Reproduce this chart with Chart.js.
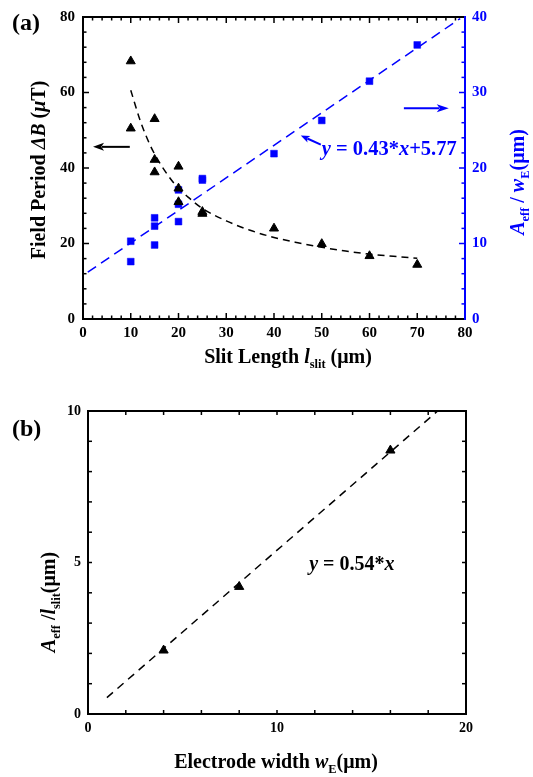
<!DOCTYPE html>
<html><head><meta charset="utf-8">
<script src="https://cdn.jsdelivr.net/npm/chart.js@4"></script>
<style>
html,body{margin:0;padding:0;background:#fff;width:533px;height:777px;overflow:hidden;}
#c1{position:absolute;left:0;top:0;}
#c2{position:absolute;left:0;top:380px;}
</style></head><body>
<canvas id="c1" width="533" height="375"></canvas>
<canvas id="c2" width="533" height="397"></canvas>
<script>
const FONT = '"Liberation Serif","Times New Roman",serif';
const BLUE = '#0000ff';

// ---- panel (a) data ----
const slitTri   = [10, 10, 15, 15, 15, 20, 20, 20, 25, 25, 40, 50, 60, 70];
const periodTri = [68.3, 50.5, 53.0, 42.2, 38.9, 40.4, 34.6, 31.0, 28.4, 27.9, 24.0, 19.9, 16.7, 14.4];
const slitSq    = [10, 10, 15, 15, 15, 20, 20, 20, 25, 25, 40, 50, 60, 70];
const ratioSq   = [10.3, 7.6, 13.4, 12.3, 9.8, 17.1, 15.2, 12.9, 18.6, 18.4, 21.9, 26.3, 31.5, 36.3];
const periodFitX = [10, 12, 14, 16, 18, 20, 22, 25, 30, 35, 40, 45, 50, 55, 60, 65, 70];
const periodFitY = [60.6, 52.5, 46.2, 41.5, 37.7, 34.6, 32.3, 29.3, 26.0, 23.5, 21.6, 20.2, 19.0, 18.0, 17.2, 16.6, 16.1];
const ratioFitX = [1, 79];
const ratioFitY = [6.2, 39.8];
const xTickLabelsA = [0, 10, 20, 30, 40, 50, 60, 70, 80];
const yLTickLabelsA = [0, 20, 40, 60, 80];
const yRTickLabelsA = [0, 10, 20, 30, 40];

// ---- panel (b) data ----
const widthTri = [4, 8, 16];
const areaTri  = [2.1, 4.2, 8.7];
const areaFitX = [1, 18.5];
const areaFitY = [0.54, 10];
const xTickLabelsB = [0, 10, 20];
const yTickLabelsB = [0, 5, 10];

function pts(xs, ys){ return xs.map((x,i)=>({x, y: ys[i]})); }
function range(a,b,s){ const r=[]; for(let v=a; v<=b+1e-9; v+=s) r.push(+v.toFixed(6)); return r; }

function rich(ctx, parts, size, x, y, rot, color, align){
  ctx.save();
  ctx.translate(x, y);
  if (rot) ctx.rotate(rot);
  ctx.textBaseline = 'alphabetic';
  let total = 0;
  const segs = parts.map(p => {
    const fs = p.sub ? size * 0.62 : size;
    const f = (p.it ? 'italic ' : '') + 'bold ' + fs + 'px ' + FONT;
    ctx.font = f;
    const w = ctx.measureText(p.t).width;
    total += w;
    return {p, f, w};
  });
  let cx = align === 'left' ? 0 : -total / 2;
  const base = size * 0.34;
  segs.forEach(s => {
    ctx.font = s.f;
    ctx.fillStyle = s.p.color || color;
    ctx.fillText(s.p.t, cx, base + (s.p.sub ? size * 0.28 : 0));
    cx += s.w;
  });
  ctx.restore();
}

function arrow(ctx, x1, y1, x2, y2, color, lw, hl, hw){
  const ang = Math.atan2(y2 - y1, x2 - x1);
  ctx.save();
  ctx.strokeStyle = color; ctx.fillStyle = color; ctx.lineWidth = lw;
  ctx.beginPath();
  ctx.moveTo(x1, y1);
  ctx.lineTo(x2 - Math.cos(ang) * hl * 0.8, y2 - Math.sin(ang) * hl * 0.8);
  ctx.stroke();
  ctx.translate(x2, y2); ctx.rotate(ang);
  ctx.beginPath();
  ctx.moveTo(0, 0); ctx.lineTo(-hl, -hw / 2); ctx.lineTo(-hl * 0.75, 0); ctx.lineTo(-hl, hw / 2);
  ctx.closePath(); ctx.fill();
  ctx.restore();
}

function seg(ctx, x1, y1, x2, y2){ ctx.beginPath(); ctx.moveTo(x1, y1); ctx.lineTo(x2, y2); ctx.stroke(); }

const tickFont = (s) => ({family: FONT, size: s, weight: 'bold'});

// ---------- chart (a) ----------
const decoA = {
  id: 'decoA',
  afterDraw(chart){
    const ctx = chart.ctx, a = chart.chartArea;
    const x = chart.scales.x, yL = chart.scales.yL, yR = chart.scales.yR;
    ctx.save();
    ctx.lineWidth = 1.5;
    ctx.strokeStyle = '#000';
    range(0, 80, 2).forEach(v => {
      const px = x.getPixelForValue(v);
      const L = v % 10 === 0 ? 6 : 3.5;
      seg(ctx, px, a.bottom, px, a.bottom - L);
      seg(ctx, px, a.top, px, a.top + L);
    });
    range(0, 80, 4).forEach(v => {
      const py = yL.getPixelForValue(v);
      const L = v % 20 === 0 ? 6 : 3.5;
      seg(ctx, a.left, py, a.left + L, py);
    });
    ctx.strokeStyle = BLUE;
    range(0, 40, 2).forEach(v => {
      const py = yR.getPixelForValue(v);
      const L = v % 10 === 0 ? 6 : 3.5;
      seg(ctx, a.right, py, a.right - L, py);
    });
    // frame
    ctx.lineWidth = 2;
    ctx.strokeStyle = '#000';
    ctx.beginPath();
    ctx.moveTo(a.right, a.top); ctx.lineTo(a.left, a.top); ctx.lineTo(a.left, a.bottom); ctx.lineTo(a.right, a.bottom);
    ctx.stroke();
    ctx.strokeStyle = BLUE;
    seg(ctx, a.right, a.top - 1, a.right, a.bottom + 1);

    // arrows
    arrow(ctx, x.getPixelForValue(9.8), yL.getPixelForValue(45.6), x.getPixelForValue(2.1), yL.getPixelForValue(45.6), '#000', 2, 11, 8);
    arrow(ctx, x.getPixelForValue(67.2), yR.getPixelForValue(27.9), x.getPixelForValue(76.6), yR.getPixelForValue(27.9), BLUE, 2, 12, 8);
    arrow(ctx, x.getPixelForValue(49.8), yR.getPixelForValue(23.1), x.getPixelForValue(45.6), yR.getPixelForValue(24.3), BLUE, 2, 9, 7);

    // equation
    rich(ctx, [
      {t: 'y', it: true}, {t: ' = 0.43*'}, {t: 'x', it: true}, {t: '+5.77'}
    ], 20.5, x.getPixelForValue(50.0), yR.getPixelForValue(22.6), 0, BLUE, 'left');

    // panel label
    rich(ctx, [{t: '(a)'}], 24, 12, 22, 0, '#000', 'left');

    // axis titles
    rich(ctx, [
      {t: 'Field Period '}, {t: '\u0394B', it: true}, {t: ' ('}, {t: '\u03BC', it: true}, {t: 'T)'}
    ], 20, 38, 170, -Math.PI / 2, '#000');
    rich(ctx, [
      {t: 'A', it: true}, {t: 'eff', sub: true}, {t: ' / '}, {t: 'w', it: true}, {t: 'E', sub: true}, {t: '(\u03BCm)'}
    ], 20, 517, 182, -Math.PI / 2, BLUE);
    rich(ctx, [
      {t: 'Slit Length '}, {t: 'l', it: true}, {t: 'slit', sub: true}, {t: ' (\u03BCm)'}
    ], 20, 288, 356, 0, '#000');
    ctx.restore();
  }
};

new Chart(document.getElementById('c1'), {
  type: 'scatter',
  data: {
    datasets: [
      {data: pts(periodFitX, periodFitY), yAxisID: 'yL', showLine: true, borderColor: '#000', borderWidth: 1.5,
       borderDash: [7, 5], pointRadius: 0, cubicInterpolationMode: 'monotone', fill: false},
      {data: pts(ratioFitX, ratioFitY), yAxisID: 'yR', showLine: true, borderColor: BLUE, borderWidth: 1.5,
       borderDash: [10, 6], pointRadius: 0, fill: false},
      {data: pts(slitTri, periodTri), yAxisID: 'yL', pointStyle: 'triangle', pointRadius: 5.2,
       backgroundColor: '#000', borderColor: '#000', borderWidth: 1},
      {data: pts(slitSq, ratioSq), yAxisID: 'yR', pointStyle: 'rect', pointRadius: 4.8,
       backgroundColor: BLUE, borderColor: BLUE, borderWidth: 0.5}
    ]
  },
  options: {
    responsive: false, animation: false, devicePixelRatio: 1,
    layout: {padding: {top: 12, left: 0, right: 0, bottom: 0}},
    plugins: {legend: {display: false}, tooltip: {enabled: false}},
    scales: {
      x: {type: 'linear', position: 'bottom', min: 0, max: 80,
          grid: {display: false, drawTicks: false}, border: {display: false},
          afterBuildTicks(s){ s.ticks = xTickLabelsA.map(v => ({value: v})); },
          ticks: {font: tickFont(15), color: '#000', padding: 5, maxRotation: 0, autoSkip: false},
          afterFit(s){ s.height = 56; }},
      yL: {type: 'linear', position: 'left', min: 0, max: 80,
           grid: {display: false, drawTicks: false}, border: {display: false},
           afterBuildTicks(s){ s.ticks = yLTickLabelsA.map(v => ({value: v})); },
           ticks: {font: tickFont(15), color: '#000', padding: 8},
           afterFit(s){ s.width = 83; }},
      yR: {type: 'linear', position: 'right', min: 0, max: 40,
           grid: {display: false, drawTicks: false}, border: {display: false},
           afterBuildTicks(s){ s.ticks = yRTickLabelsA.map(v => ({value: v})); },
           ticks: {font: tickFont(15), color: BLUE, padding: 7},
           afterFit(s){ s.width = 68; }}
    }
  },
  plugins: [decoA]
});

// ---------- chart (b) ----------
const decoB = {
  id: 'decoB',
  afterDraw(chart){
    const ctx = chart.ctx, a = chart.chartArea;
    const x = chart.scales.x, y = chart.scales.y;
    ctx.save();
    ctx.lineWidth = 1.5;
    ctx.strokeStyle = '#000';
    range(0, 20, 2).forEach(v => {
      const px = x.getPixelForValue(v);
      seg(ctx, px, a.bottom, px, a.bottom - 4);
      seg(ctx, px, a.top, px, a.top + 4);
    });
    range(0, 10, 1).forEach(v => {
      const py = y.getPixelForValue(v);
      seg(ctx, a.left, py, a.left + 4, py);
      seg(ctx, a.right, py, a.right - 4, py);
    });
    ctx.lineWidth = 2;
    ctx.strokeRect(a.left, a.top, a.right - a.left, a.bottom - a.top);

    rich(ctx, [{t: 'y', it: true}, {t: ' = 0.54*'}, {t: 'x', it: true}], 20,
         x.getPixelForValue(11.7), y.getPixelForValue(4.98), 0, '#000', 'left');
    rich(ctx, [{t: '(b)'}], 24, 12, 48, 0, '#000', 'left');
    rich(ctx, [
      {t: 'A', it: true}, {t: 'eff', sub: true}, {t: ' /'}, {t: 'l', it: true}, {t: 'slit', sub: true}, {t: '(\u03BCm)'}
    ], 20, 48, 222, -Math.PI / 2, '#000');
    rich(ctx, [
      {t: 'Electrode width '}, {t: 'w', it: true}, {t: 'E', sub: true}, {t: '(\u03BCm)'}
    ], 20, 276, 381, 0, '#000');
    ctx.restore();
  }
};

new Chart(document.getElementById('c2'), {
  type: 'scatter',
  data: {
    datasets: [
      {data: pts(areaFitX, areaFitY), showLine: true, borderColor: '#000', borderWidth: 1.5,
       borderDash: [8, 6], pointRadius: 0, fill: false},
      {data: pts(widthTri, areaTri), pointStyle: 'triangle', pointRadius: 5.3,
       backgroundColor: '#000', borderColor: '#000', borderWidth: 1}
    ]
  },
  options: {
    responsive: false, animation: false, devicePixelRatio: 1,
    layout: {padding: {top: 31, left: 0, right: 67, bottom: 0}},
    plugins: {legend: {display: false}, tooltip: {enabled: false}},
    scales: {
      x: {type: 'linear', position: 'bottom', min: 0, max: 20,
          grid: {display: false, drawTicks: false}, border: {display: false},
          afterBuildTicks(s){ s.ticks = xTickLabelsB.map(v => ({value: v})); },
          ticks: {font: tickFont(14), color: '#000', padding: 6, maxRotation: 0, autoSkip: false},
          afterFit(s){ s.height = 63; }},
      y: {type: 'linear', position: 'left', min: 0, max: 10,
          grid: {display: false, drawTicks: false}, border: {display: false},
          afterBuildTicks(s){ s.ticks = yTickLabelsB.map(v => ({value: v})); },
          ticks: {font: tickFont(14), color: '#000', padding: 7},
          afterFit(s){ s.width = 88; }}
    }
  },
  plugins: [decoB]
});
</script>
</body></html>
